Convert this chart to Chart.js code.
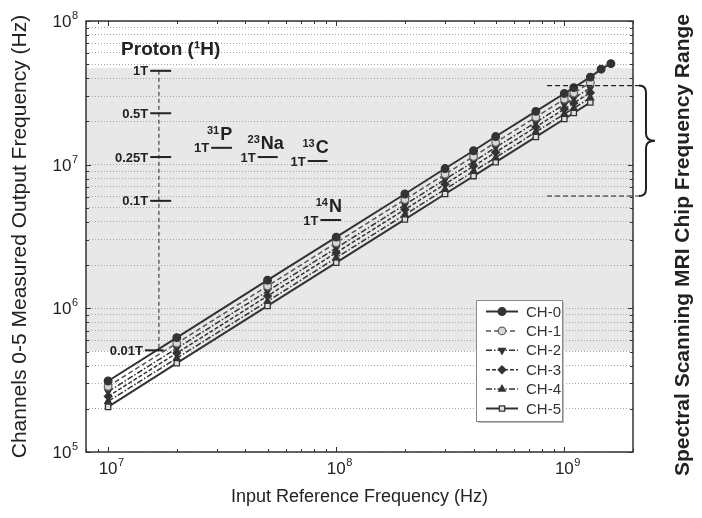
<!DOCTYPE html>
<html>
<head>
<meta charset="utf-8">
<title>Channel output frequency vs input reference frequency</title>
<script src="https://cdn.jsdelivr.net/npm/chart.js@4.4.0/dist/chart.umd.min.js"></script>
<style>
  html, body { margin: 0; padding: 0; background: #fff; }
  #wrap { width: 702px; height: 518px; }
</style>
</head>
<body>
<div id="wrap"><canvas id="chart" width="702" height="518"></canvas></div>
<script>
// ---- data (Hz) ----
const inputFreq = [1e7, 2e7, 5e7, 1e8, 2e8, 3e8, 4e8, 5e8, 7.5e8, 1e9, 1.1e9, 1.3e9];
const inputFreqCh0 = [1e7, 2e7, 5e7, 1e8, 2e8, 3e8, 4e8, 5e8, 7.5e8, 1e9, 1.1e9, 1.3e9, 1.45e9, 1.6e9];
const ch0 = [3.12e5, 6.25e5, 1.57e6, 3.13e6, 6.25e6, 9.40e6, 1.25e7, 1.57e7, 2.35e7, 3.13e7, 3.44e7, 4.07e7, 4.62e7, 5.05e7];
const ch1 = [2.86e5, 5.72e5, 1.43e6, 2.86e6, 5.72e6, 8.58e6, 1.14e7, 1.43e7, 2.14e7, 2.86e7, 3.15e7, 3.72e7];
const ch2 = [2.63e5, 5.27e5, 1.32e6, 2.63e6, 5.26e6, 7.90e6, 1.05e7, 1.32e7, 1.97e7, 2.63e7, 2.90e7, 3.42e7];
const ch3 = [2.44e5, 4.88e5, 1.22e6, 2.44e6, 4.88e6, 7.32e6, 9.77e6, 1.22e7, 1.83e7, 2.44e7, 2.69e7, 3.17e7];
const ch4 = [2.25e5, 4.50e5, 1.12e6, 2.25e6, 4.49e6, 6.74e6, 8.99e6, 1.12e7, 1.69e7, 2.25e7, 2.47e7, 2.92e7];
const ch5 = [2.06e5, 4.15e5, 1.04e6, 2.08e6, 4.16e6, 6.25e6, 8.33e6, 1.04e7, 1.56e7, 2.08e7, 2.29e7, 2.71e7];
const seriesNames = ['CH-0', 'CH-1', 'CH-2', 'CH-3', 'CH-4', 'CH-5'];

const xTickVals = [8e6, 9e6, 1e7, 2e7, 3e7, 4e7, 5e7, 6e7, 7e7, 8e7, 9e7,
  1e8, 2e8, 3e8, 4e8, 5e8, 6e8, 7e8, 8e8, 9e8, 1e9, 2e9];
const yTickVals = [1e5, 2e5, 3e5, 4e5, 5e5, 6e5, 7e5, 8e5, 9e5,
  1e6, 2e6, 3e6, 4e6, 5e6, 6e6, 7e6, 8e6, 9e6,
  1e7, 2e7, 3e7, 4e7, 5e7, 6e7, 7e7, 8e7, 9e7, 1e8];

// shaded MRI band and annotations (value space)
const bandRange = [5.05e5, 4.7e7];
const protonX = 1.67e7;
const protonLevels = [
  { label: '1T', f: 4.5e7, x0: 1.53e7, x1: 1.89e7 },
  { label: '0.5T', f: 2.28e7, x0: 1.53e7, x1: 1.89e7 },
  { label: '0.25T', f: 1.13e7, x0: 1.53e7, x1: 1.89e7 },
  { label: '0.1T', f: 5.6e6, x0: 1.53e7, x1: 1.89e7 },
  { label: '0.01T', f: 5.1e5, x0: 1.45e7, x1: 1.75e7 }
];
const nuclei = [
  { iso: '31', sym: 'P', f: 1.31e7, x0: 2.83e7, x1: 3.49e7 },
  { iso: '23', sym: 'Na', f: 1.13e7, x0: 4.53e7, x1: 5.54e7 },
  { iso: '13', sym: 'C', f: 1.06e7, x0: 7.5e7, x1: 9.16e7 },
  { iso: '14', sym: 'N', f: 4.12e6, x0: 8.53e7, x1: 1.05e8 }
];
const chipRange = [6.05e6, 3.55e7];
const chipRangeStartX = 8.4e8;

const FONT = '"Liberation Sans", Arial, Helvetica, sans-serif';
const INK = '#222';

function isPow10(v) {
  const l = Math.log10(v);
  return Math.abs(l - Math.round(l)) < 1e-9;
}
function pts(xs, ys) {
  return ys.map((y, i) => ({ x: xs[i], y: y }));
}

const seriesStyle = [
  { line: '#333', dash: [], width: 2, style: 'circle', rot: 0, fill: '#333', edge: '#333' },
  { line: '#555', dash: [5, 3], width: 1.5, style: 'circle', rot: 0, fill: '#d8d8d8', edge: '#666' },
  { line: '#333', dash: [6, 2, 1.5, 2], width: 1.5, style: 'triangle', rot: 180, fill: '#333', edge: '#333' },
  { line: '#333', dash: [4, 2], width: 1.5, style: 'rectRot', rot: 0, fill: '#333', edge: '#333' },
  { line: '#333', dash: [6, 2, 1.5, 2], width: 1.5, style: 'triangle', rot: 0, fill: '#333', edge: '#333' },
  { line: '#333', dash: [], width: 2, style: 'rect', rot: 0, fill: '#e0e0e0', edge: '#333' }
];
const seriesData = [pts(inputFreqCh0, ch0), pts(inputFreq, ch1), pts(inputFreq, ch2),
  pts(inputFreq, ch3), pts(inputFreq, ch4), pts(inputFreq, ch5)];

const datasets = seriesNames.map((name, i) => {
  const s = seriesStyle[i];
  return {
    label: name,
    data: seriesData[i],
    showLine: true,
    borderColor: s.line,
    borderWidth: s.width,
    borderDash: s.dash,
    pointStyle: s.style,
    pointRotation: s.rot,
    pointRadius: 3.8,
    pointBackgroundColor: s.fill,
    pointBorderColor: s.edge,
    pointBorderWidth: 1.3,
    tension: 0
  };
});

function drawSupLabel(ctx, iso, sym, cx, baseline) {
  ctx.font = 'bold 11px ' + FONT;
  const wIso = ctx.measureText(iso).width;
  ctx.font = 'bold 18px ' + FONT;
  const wSym = ctx.measureText(sym).width;
  const left = cx - (wIso + wSym + 1) / 2;
  ctx.textAlign = 'left';
  ctx.textBaseline = 'alphabetic';
  ctx.font = 'bold 11px ' + FONT;
  ctx.fillText(iso, left, baseline - 6);
  ctx.font = 'bold 18px ' + FONT;
  ctx.fillText(sym, left + wIso + 1, baseline);
}

// "10" with a raised exponent; anchor 'center' centres the 10 on x, 'right' right-aligns the whole label
function drawPowerLabel(ctx, value, x, cy, anchor) {
  const e = String(Math.round(Math.log10(value)));
  ctx.font = '17px ' + FONT;
  const wBase = ctx.measureText('10').width;
  ctx.font = '11px ' + FONT;
  const wExp = ctx.measureText(e).width;
  const left = anchor === 'right' ? x - wBase - wExp - 0.5 : x - wBase / 2;
  ctx.textAlign = 'left';
  ctx.textBaseline = 'alphabetic';
  ctx.font = '17px ' + FONT;
  ctx.fillText('10', left, cy + 6);
  ctx.font = '11px ' + FONT;
  ctx.fillText(e, left + wBase + 0.5, cy - 2);
}

const decor = {
  id: 'decor',
  beforeDraw(chart) {
    const { ctx, chartArea: ca, scales: { y } } = chart;
    const top = y.getPixelForValue(bandRange[1]);
    const bot = y.getPixelForValue(bandRange[0]);
    ctx.save();
    ctx.fillStyle = '#e8e8e8';
    ctx.fillRect(ca.left, top, ca.right - ca.left, bot - top);
    ctx.restore();
  },
  afterDatasetsDraw(chart) {
    const { ctx, chartArea: ca, scales: { x, y } } = chart;
    ctx.save();
    ctx.fillStyle = INK;
    ctx.strokeStyle = INK;

    // proton column
    const px = x.getPixelForValue(protonX);
    ctx.lineWidth = 1;
    ctx.setLineDash([4, 3]);
    ctx.beginPath();
    ctx.moveTo(px, y.getPixelForValue(protonLevels[0].f));
    ctx.lineTo(px, y.getPixelForValue(protonLevels[protonLevels.length - 1].f));
    ctx.stroke();
    ctx.setLineDash([]);
    ctx.lineWidth = 2;
    ctx.font = 'bold 13px ' + FONT;
    ctx.textAlign = 'right';
    ctx.textBaseline = 'middle';
    protonLevels.forEach(l => {
      const ly = y.getPixelForValue(l.f);
      const a = x.getPixelForValue(l.x0), b = x.getPixelForValue(l.x1);
      ctx.beginPath();
      ctx.moveTo(a, ly);
      ctx.lineTo(b, ly);
      ctx.stroke();
      ctx.fillText(l.label, a - 2, ly + 1);
    });
    ctx.font = 'bold 19px ' + FONT;
    ctx.textAlign = 'left';
    ctx.textBaseline = 'alphabetic';
    ctx.fillText('Proton (¹H)', x.getPixelForValue(1.14e7), y.getPixelForValue(5.8e7));

    // other nuclei at 1T
    nuclei.forEach(n => {
      const ly = y.getPixelForValue(n.f);
      const a = x.getPixelForValue(n.x0), b = x.getPixelForValue(n.x1);
      ctx.lineWidth = 2;
      ctx.beginPath();
      ctx.moveTo(a, ly);
      ctx.lineTo(b, ly);
      ctx.stroke();
      ctx.font = 'bold 13px ' + FONT;
      ctx.textAlign = 'right';
      ctx.textBaseline = 'middle';
      ctx.fillText('1T', a - 2, ly + 1);
      drawSupLabel(ctx, n.iso, n.sym, (a + b) / 2 - 2, ly - 8);
    });

    // chip frequency range marks and brace
    const yTop = y.getPixelForValue(chipRange[1]);
    const yBot = y.getPixelForValue(chipRange[0]);
    const sx = x.getPixelForValue(chipRangeStartX);
    const bx = ca.right + 6;
    ctx.lineWidth = 1.2;
    ctx.setLineDash([5, 3]);
    [yTop, yBot].forEach(yy => {
      ctx.beginPath();
      ctx.moveTo(sx, yy);
      ctx.lineTo(bx, yy);
      ctx.stroke();
    });
    ctx.setLineDash([]);
    ctx.lineWidth = 2;
    const w = 7, mid = (yTop + yBot) / 2;
    ctx.beginPath();
    ctx.moveTo(bx, yTop);
    ctx.quadraticCurveTo(bx + w, yTop, bx + w, yTop + w);
    ctx.lineTo(bx + w, mid - w);
    ctx.quadraticCurveTo(bx + w, mid, bx + w + 9, mid);
    ctx.quadraticCurveTo(bx + w, mid, bx + w, mid + w);
    ctx.lineTo(bx + w, yBot - w);
    ctx.quadraticCurveTo(bx + w, yBot, bx, yBot);
    ctx.stroke();
    ctx.restore();
  },
  afterDraw(chart) {
    const { ctx, chartArea: ca, scales: { x, y } } = chart;
    ctx.save();
    // frame
    ctx.strokeStyle = '#333';
    ctx.lineWidth = 1.5;
    ctx.strokeRect(ca.left, ca.top, ca.right - ca.left, ca.bottom - ca.top);
    // inward ticks on all four sides
    ctx.lineWidth = 1;
    ctx.beginPath();
    x.ticks.forEach(t => {
      const px = Math.round(x.getPixelForValue(t.value)) + 0.5;
      const len = isPow10(t.value) ? 5 : 3;
      ctx.moveTo(px, ca.bottom); ctx.lineTo(px, ca.bottom - len);
      ctx.moveTo(px, ca.top); ctx.lineTo(px, ca.top + len);
    });
    y.ticks.forEach(t => {
      const py = Math.round(y.getPixelForValue(t.value)) + 0.5;
      const len = isPow10(t.value) ? 5 : 3;
      ctx.moveTo(ca.left, py); ctx.lineTo(ca.left + len, py);
      ctx.moveTo(ca.right, py); ctx.lineTo(ca.right - len, py);
    });
    ctx.stroke();

    // decade tick labels
    ctx.fillStyle = INK;
    x.ticks.filter(t => isPow10(t.value)).forEach(t => {
      drawPowerLabel(ctx, t.value, x.getPixelForValue(t.value), ca.bottom + 16, 'center');
    });
    y.ticks.filter(t => isPow10(t.value)).forEach(t => {
      drawPowerLabel(ctx, t.value, ca.left - 8, y.getPixelForValue(t.value), 'right');
    });

    // legend
    const lx = ca.right - 157, ly = ca.bottom - 152, lw = 86, lh = 121;
    ctx.fillStyle = '#bbb';
    ctx.fillRect(lx + 2, ly + 2, lw, lh);
    ctx.fillStyle = '#fff';
    ctx.fillRect(lx, ly, lw, lh);
    ctx.strokeStyle = '#888';
    ctx.lineWidth = 1;
    ctx.strokeRect(lx + 0.5, ly + 0.5, lw, lh);
    chart.data.datasets.forEach((ds, i) => {
      const s = seriesStyle[i];
      const cy = ly + 11.5 + i * 19.4;
      ctx.strokeStyle = s.line;
      ctx.lineWidth = s.width;
      ctx.setLineDash(s.dash);
      ctx.beginPath();
      ctx.moveTo(lx + 10, cy);
      ctx.lineTo(lx + 42, cy);
      ctx.stroke();
      ctx.setLineDash([]);
      ctx.fillStyle = s.fill;
      ctx.strokeStyle = s.edge;
      ctx.lineWidth = 1.3;
      if (Chart.helpers && Chart.helpers.drawPoint) {
        Chart.helpers.drawPoint(ctx, { pointStyle: s.style, rotation: s.rot, radius: 3.8, borderWidth: 1.3 }, lx + 26, cy);
      } else {
        ctx.beginPath(); ctx.arc(lx + 26, cy, 3.8, 0, Math.PI * 2); ctx.fill(); ctx.stroke();
      }
      ctx.fillStyle = '#333';
      ctx.font = '15px ' + FONT;
      ctx.textAlign = 'left';
      ctx.textBaseline = 'middle';
      ctx.fillText(ds.label, lx + 50, cy + 1);
    });

    // right-hand title
    ctx.translate(chart.width - 19, 245);
    ctx.rotate(-Math.PI / 2);
    ctx.fillStyle = INK;
    ctx.font = 'bold 21px ' + FONT;
    ctx.textAlign = 'center';
    ctx.textBaseline = 'middle';
    ctx.fillText('Spectral Scanning MRI Chip Frequency Range', 0, 0);
    ctx.restore();
  }
};

new Chart(document.getElementById('chart'), {
  type: 'scatter',
  data: { datasets: datasets },
  options: {
    responsive: false,
    animation: false,
    devicePixelRatio: 1,
    layout: { padding: { left: 0, right: 69, top: 21, bottom: 0 } },
    plugins: { legend: { display: false }, tooltip: { enabled: false } },
    scales: {
      x: {
        type: 'logarithmic',
        min: 8e6, max: 2e9,
        afterBuildTicks: s => { s.ticks = xTickVals.map(v => ({ value: v })); },
        afterFit: s => { s.height = 66; },
        grid: { display: false, drawTicks: false },
        border: { display: false },
        ticks: { display: false, autoSkip: false },
        title: {
          display: true, text: 'Input Reference Frequency (Hz)',
          color: INK, font: { family: FONT, size: 18 }, padding: 10
        }
      },
      y: {
        type: 'logarithmic',
        min: 1e5, max: 1e8,
        afterBuildTicks: s => { s.ticks = yTickVals.map(v => ({ value: v })); },
        afterFit: s => { s.width = 86; },
        grid: { color: '#a5a5a5', lineWidth: 1, drawTicks: false },
        border: { display: false, dash: [1, 2] },
        ticks: { display: false, autoSkip: false },
        title: {
          display: true, text: 'Channels 0-5 Measured Output Frequency (Hz)',
          color: INK, font: { family: FONT, size: 21 }, padding: 8
        }
      }
    }
  },
  plugins: [decor]
});
</script>
</body>
</html>
